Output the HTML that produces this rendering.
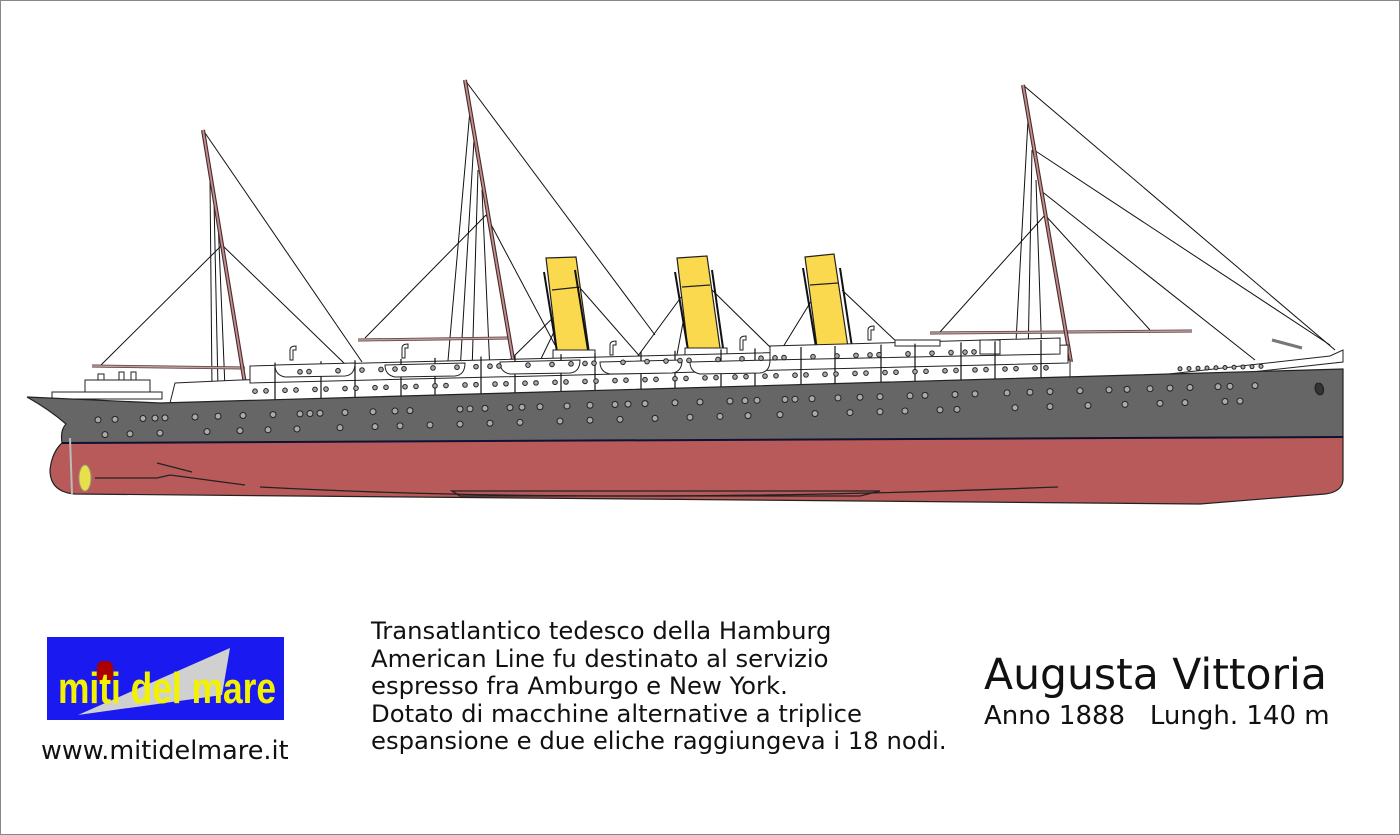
<!DOCTYPE html>
<html><head><meta charset="utf-8"><style>
html,body{margin:0;padding:0;background:#fff}
#w{position:relative;width:1398px;height:833px;border:1px solid #888;overflow:hidden;background:#fff}
.t{position:absolute;font-family:"DejaVu Sans","Liberation Sans",sans-serif;color:#111;white-space:nowrap}
</style></head><body><div id="w">
<svg width="1400" height="835" viewBox="0 0 1400 835" style="position:absolute;left:-1px;top:-1px">
<g stroke="#111" stroke-width="1" fill="none">
<line x1="203" y1="130" x2="362" y2="362"/>
<line x1="222" y1="245" x2="100" y2="366"/>
<line x1="222" y1="245" x2="345" y2="364"/>
<line x1="210" y1="180" x2="212" y2="388"/>
<line x1="214" y1="200" x2="218" y2="388"/>
<line x1="218" y1="220" x2="225" y2="388"/>
<line x1="465" y1="80" x2="655" y2="335"/>
<line x1="486" y1="215" x2="365" y2="338"/>
<line x1="486" y1="215" x2="555" y2="345"/>
<line x1="470" y1="110" x2="447" y2="372"/>
<line x1="474" y1="140" x2="460" y2="372"/>
<line x1="478" y1="170" x2="472" y2="372"/>
<line x1="482" y1="190" x2="490" y2="372"/>
<line x1="1023" y1="85" x2="1335" y2="350"/>
<line x1="1034" y1="150" x2="1330" y2="345"/>
<line x1="1040" y1="190" x2="1255" y2="360"/>
<line x1="1045" y1="215" x2="940" y2="332"/>
<line x1="1045" y1="215" x2="1150" y2="330"/>
<line x1="1028" y1="120" x2="1015" y2="360"/>
<line x1="1032" y1="150" x2="1028" y2="360"/>
<line x1="1036" y1="180" x2="1042" y2="360"/>
<line x1="568" y1="303" x2="538" y2="365"/><line x1="568" y1="303" x2="510" y2="360"/>
<line x1="580" y1="288" x2="643" y2="360"/>
<line x1="690" y1="285" x2="635" y2="360"/><line x1="690" y1="285" x2="676" y2="360"/>
<line x1="712" y1="290" x2="770" y2="347"/>
<line x1="818" y1="290" x2="775" y2="360"/>
<line x1="842" y1="290" x2="900" y2="345"/>
<line x1="1272" y1="340" x2="1302" y2="348" stroke="#777" stroke-width="3"/>
</g>
<g stroke="#5a3a3a" stroke-width="3">
<line x1="92" y1="366" x2="245" y2="368"/>
<line x1="358" y1="340" x2="510" y2="338"/>
<line x1="930" y1="333" x2="1192" y2="331"/>
</g>
<g stroke="#bba0a0" stroke-width="1.5">
<line x1="92" y1="366" x2="245" y2="368"/>
<line x1="358" y1="340" x2="510" y2="338"/>
<line x1="930" y1="333" x2="1192" y2="331"/>
</g>
<g stroke="#4a2a2a" stroke-width="4"><line x1="203" y1="130" x2="246" y2="390"/><line x1="465" y1="80" x2="514" y2="365"/><line x1="1023" y1="85" x2="1071" y2="362"/></g>
<g stroke="#c09090" stroke-width="1.8"><line x1="203" y1="130" x2="246" y2="390"/><line x1="465" y1="80" x2="514" y2="365"/><line x1="1023" y1="85" x2="1071" y2="362"/></g>
<g stroke="#222" stroke-width="1.2" fill="#fbd94f">
<polygon points="546,258 576,257 589,350 557,351"/>
<polygon points="677,258 707,256 720,348 688,350"/>
<polygon points="805,257 834,254 848,347 817,347"/>
<line x1="552" y1="290" x2="580" y2="287"/><line x1="682" y1="287" x2="710" y2="285"/><line x1="810" y1="285" x2="838" y2="283"/>
</g>
<g stroke="#111" stroke-width="2"><line x1="544" y1="272" x2="557" y2="352"/><line x1="575" y1="270" x2="588" y2="350"/><line x1="675" y1="272" x2="688" y2="350"/><line x1="712" y1="270" x2="723" y2="348"/><line x1="803" y1="268" x2="816" y2="347"/><line x1="840" y1="268" x2="852" y2="347"/></g>
<g stroke="#222" fill="#fff">
<rect x="553" y="350" width="42" height="14"/><rect x="685" y="348" width="42" height="14"/><rect x="813" y="346" width="42" height="12"/>
</g>
<g stroke="#222" fill="#fff">
<rect x="85" y="380" width="65" height="13"/>
<rect x="52" y="392" width="110" height="7"/>
<rect x="98" y="374" width="6" height="6"/><rect x="119" y="372" width="5" height="8"/><rect x="131" y="372" width="5" height="8"/>
</g>
<g stroke="#222" fill="#fff">
<polygon points="170,403 1070,385 1070,360 240,380 175,383"/>
<polygon points="250,383 1068,363 1068,345 250,366"/>
<polygon points="770,360 1060,354 1060,338 770,346"/>
<polygon points="1070,385 1330,356 1343,350 1343,362 1070,392"/>
<rect x="980" y="340" width="20" height="14"/><rect x="895" y="340" width="45" height="6"/>
</g>
<g id="vl" stroke="#111" stroke-width="1.2"></g>
<g stroke="#222" fill="#fff">
<path d="M275,365 L355,363 Q355,375 345,376 L285,377 Q275,375 275,365Z"/>
<path d="M385,365 L465,363 Q465,375 455,376 L395,377 Q385,375 385,365Z"/>
<path d="M500,362 L580,360 Q580,372 570,373 L510,374 Q500,372 500,362Z"/>
<path d="M600,362 L682,360 Q682,372 672,373 L610,374 Q600,372 600,362Z"/>
<path d="M690,362 L770,360 Q770,372 760,373 L700,374 Q690,372 690,362Z"/>
<path d="M290,360 v-10 q0,-4 6,-4 v4 h-3 v10Z"/><path d="M402,358 v-10 q0,-4 6,-4 v4 h-3 v10Z"/><path d="M610,355 v-10 q0,-4 6,-4 v4 h-3 v10Z"/><path d="M740,350 v-10 q0,-4 6,-4 v4 h-3 v10Z"/><path d="M868,340 v-10 q0,-4 6,-4 v4 h-3 v10Z"/>
</g>
<path d="M27,397 L160,403 L1343,369 L1343,437 L62,443 Q60,430 66,424 Q50,410 27,397Z" fill="#666" stroke="#222" stroke-width="1.2"/>
<path d="M62,443 L1343,437 L1343,480 Q1342,492 1325,494 L1200,504 L75,494 Q50,492 50,470 Q52,452 62,443Z" fill="#b85a5a" stroke="#222" stroke-width="1.2"/>
<line x1="62" y1="443" x2="1343" y2="437" stroke="#113" stroke-width="2"/>
<g stroke="#222" fill="none" stroke-width="1.3">
<line x1="70" y1="438" x2="72" y2="494" stroke="#bbb" stroke-width="2"/>
<path d="M95,478 H157 L170,475 L245,485"/>
<path d="M157,463 L192,472"/>
<path d="M260,487 Q600,505 1058,487"/>
<path d="M452,491 L880,491 L860,496 L460,496Z"/>
<path d="M1318,383 a4,6 -15 1,0 1,0" fill="#333"/>
</g>
<ellipse cx="85" cy="478" rx="6" ry="13" fill="#e8e04a" stroke="#997"/>
<g id="ph" fill="#aaa" stroke="#222" stroke-width="1"></g>
<rect x="47" y="637" width="237" height="83" fill="#1a1af0"/>
<polygon points="78,715 230,648 222,695" fill="#d0d0d0"/>
<rect x="97" y="661" width="16" height="22" fill="#a00" rx="6"/>
<text x="58" y="703" font-family="Liberation Sans,sans-serif" font-weight="bold" font-size="44" fill="#f2f200" textLength="218" lengthAdjust="spacingAndGlyphs">miti del mare</text>
</svg>
<div class="t" style="left:40px;top:735px;font-size:25.5px">www.mitidelmare.it</div>
<div class="t" style="left:370px;top:616px;font-size:24.3px;line-height:27.5px">Transatlantico tedesco della Hamburg<br>American Line fu destinato al servizio<br>espresso fra Amburgo e New York.<br>Dotato di macchine alternative a triplice<br>espansione e due eliche raggiungeva i 18 nodi.</div>
<div class="t" style="left:983px;top:650px;font-size:42.5px">Augusta Vittoria</div>
<div class="t" style="left:983px;top:700px;font-size:26px">Anno 1888&nbsp;&nbsp; Lungh. 140 m</div>
</div>
<script>
var ns="http://www.w3.org/2000/svg";
function sy(x){return 404-(x-160)*0.0296;}
var ph=document.getElementById('ph');
function c(x,y,r){var e=document.createElementNS(ns,'circle');e.setAttribute('cx',x);e.setAttribute('cy',y);e.setAttribute('r',r);ph.appendChild(e);}
var r1=[98,115,143,155,165,195,218,243,273,300,310,320,345,373,395,410,460,470,485,510,522,540,567,590,615,628,645,675,700,730,745,757,785,795,812,838,860,880,910,925,955,975,1007,1030,1050,1080,1109,1127,1150,1170,1190,1218,1230,1255];
r1.forEach(function(x,i){c(x,sy(x)+14,3);});
var r2=[105,130,160,207,240,268,297,340,375,400,430,460,490,520,560,590,620,655,690,720,748,780,815,850,880,905,940,957,1015,1050,1088,1125,1160,1185,1225,1240];
r2.forEach(function(x){c(x,sy(x)+29,3);});
for(var x=255;x<1060;x+=11+(x%3)*4){c(x,sy(x)-10,2.3);}
for(var x=300;x<1000;x+=9+(x%5)*5){c(x,sy(x)-28,2.3);}
for(var x=1180;x<1265;x+=9){c(x,sy(x)-5,2);}
var vl=document.getElementById('vl');
for(var x=275;x<1060;x+=28+(x%4)*6){var l=document.createElementNS(ns,'line');l.setAttribute('x1',x);l.setAttribute('x2',x);l.setAttribute('y1',sy(x)-38);l.setAttribute('y2',sy(x));vl.appendChild(l);}
</script>
</body></html>
